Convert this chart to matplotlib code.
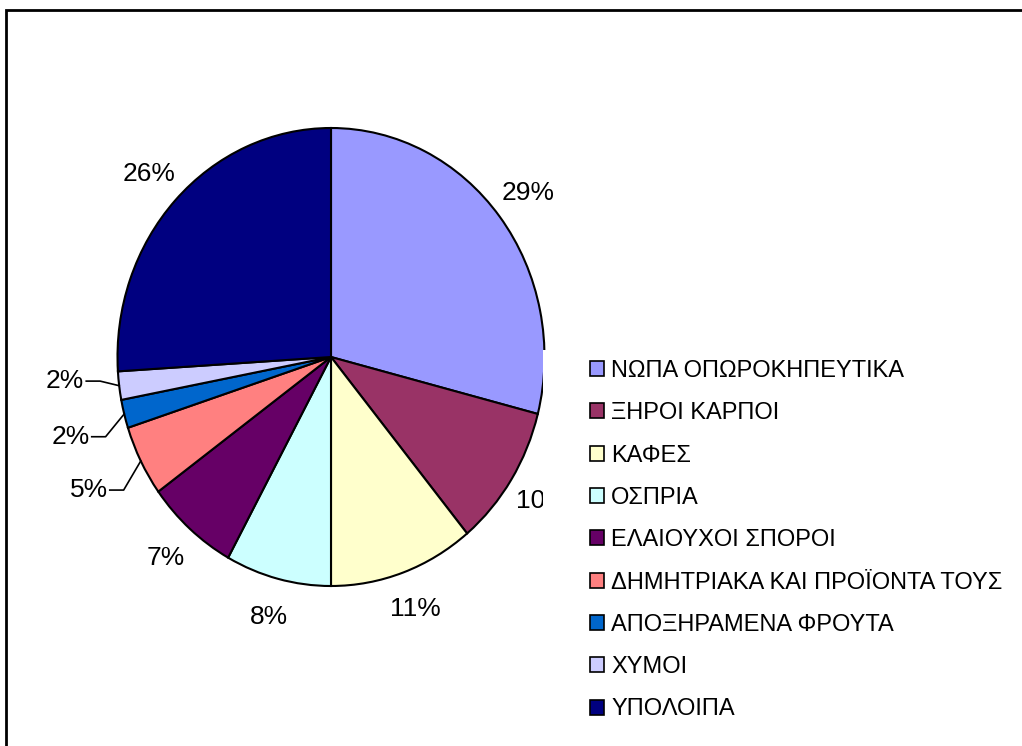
import numpy as np
import matplotlib
matplotlib.use("Agg")
import matplotlib.pyplot as plt
from matplotlib.patches import Rectangle, Patch

plt.rcParams['font.family'] = ['Liberation Sans', 'DejaVu Sans']

categories = ["ΝΩΠΑ ΟΠΩΡΟΚΗΠΕΥΤΙΚΑ", "ΞΗΡΟΙ ΚΑΡΠΟΙ", "ΚΑΦΕΣ", "ΟΣΠΡΙΑ",
              "ΕΛΑΙΟΥΧΟΙ ΣΠΟΡΟΙ", "ΔΗΜΗΤΡΙΑΚΑ ΚΑΙ ΠΡΟΪΟΝΤΑ ΤΟΥΣ",
              "ΑΠΟΞΗΡΑΜΕΝΑ ΦΡΟΥΤΑ", "ΧΥΜΟΙ", "ΥΠΟΛΟΙΠΑ"]
shares = [29, 10, 11, 8, 7, 5, 2, 2, 26]
colors = ["#9999FF", "#993366", "#FFFFCC", "#CCFFFF", "#660066",
          "#FF8080", "#0066CC", "#CCCCFF", "#000080"]
# labels that get a leader line, and their vertical distance factor
leader = [False, False, False, False, False, True, True, True, False]
lead_y = [0, 0, 0, 0, 0, 1.28, 1.40, 0.84, 0]

W, H = 1022, 746
fig = plt.figure(figsize=(W / 100, H / 100), dpi=100)

# pie is slightly taller than wide in the original
cx, cy, rx, ry = 331, 357, 213.5, 229
ax = fig.add_axes([(cx - rx) / W, (H - cy - ry) / H, 2 * rx / W, 2 * ry / H])
wedges, _ = ax.pie(shares, colors=colors, startangle=90, counterclock=False,
                   wedgeprops=dict(edgecolor="black", linewidth=1.5))
ax.set_xlim(-1, 1)
ax.set_ylim(-1, 1)
ax.set_aspect("auto")
ax.axis("off")

for w, v, ld, fy in zip(wedges, shares, leader, lead_y):
    th = np.deg2rad((w.theta1 + w.theta2) / 2)
    c, s = np.cos(th), np.sin(th)
    if not ld:
        r = 1.17
        ax.text(r * c, r * s, "%d%%" % v, ha="center", va="center",
                fontsize=19, clip_on=False)
    else:
        ty = fy * s
        ex = 1.09 * c
        ax.plot([c, ex, ex - 0.065], [s, ty, ty], color="black", lw=1.2,
                clip_on=False)
        ax.text(ex - 0.075, ty, "%d%%" % v, ha="right", va="center",
                fontsize=19, clip_on=False)

# white block of the legend area cuts the pie
fig.patches.append(Rectangle((543 / W, 0), 1, (H - 350) / H, transform=fig.transFigure,
                             facecolor="white", edgecolor="none", zorder=2))
# outer chart frame
fig.patches.append(Rectangle((6 / W, -0.1), 1.2, (H - 10) / H + 0.1,
                             transform=fig.transFigure, fill=False,
                             edgecolor="black", linewidth=2, zorder=3))

handles = [Patch(facecolor=col, edgecolor="black", linewidth=1.2) for col in colors]
leg = fig.legend(handles, categories, loc="upper left",
                 bbox_to_anchor=(590 / W, 1 - 360 / H), frameon=False,
                 fontsize=17, handlelength=0.6, handleheight=0.6,
                 handletextpad=0.3, labelspacing=0.86, borderpad=0,
                 borderaxespad=0)
leg.set_zorder(4)

fig.savefig("out.png", dpi=100)
